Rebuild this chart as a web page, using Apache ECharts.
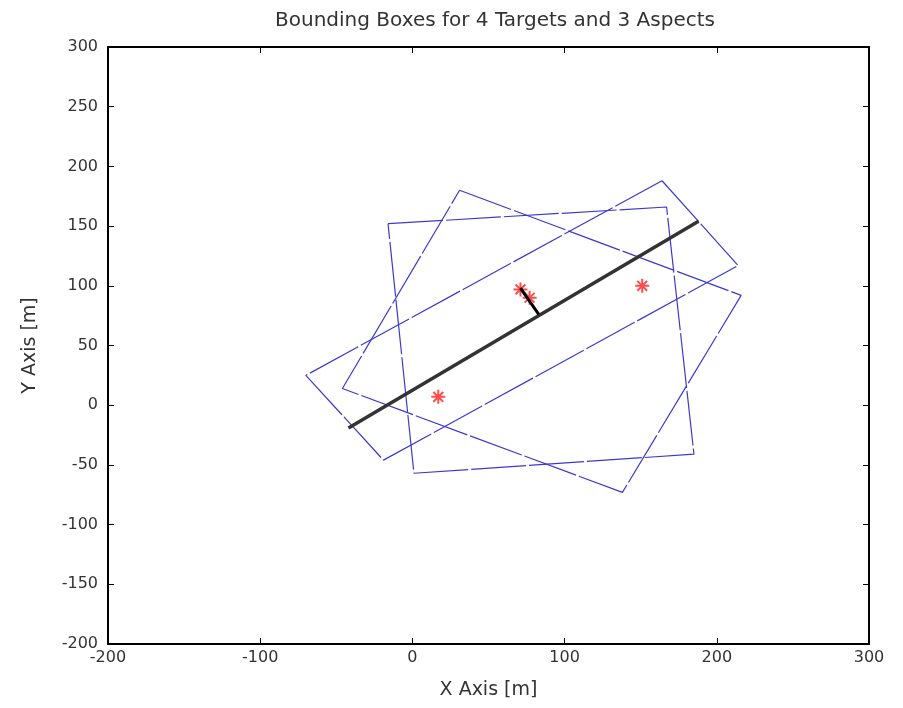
<!DOCTYPE html>
<html>
<head>
<meta charset="utf-8">
<script src="https://cdn.jsdelivr.net/npm/echarts@6/dist/echarts.min.js"></script>
<style>
  html, body { margin: 0; padding: 0; background: #fff; }
  #chart { width: 903px; height: 708px; }
</style>
</head>
<body>
<div id="chart"></div>
<script>
  // bounding boxes, corners (closed polygons)
  var box1 = [[-16, 152], [167, 166], [185, -41], [1, -57], [-16, 152]]
  var box2 = [[31, 180], [216, 92], [138, -73], [-46, 14], [31, 180]]
  var box3 = [[164, 188], [214, 117], [-19, -46], [-70, 25], [164, 188]]
  // long axis line and short offset line
  var axisLine = [[-42, -19], [188, 154]]
  var offsetLine = [[71, 98], [83, 76]]
  // targets
  var targets = [[17, 7], [71, 97], [77, 90], [151, 100]]

  var xTicks = { min: -200, max: 300, interval: 100 }
  var yTicks = { min: -200, max: 300, interval: 50 }

  var starPath = 'path://M0,-10L0,10M-10,0L10,0M-7,-7L7,7M-7,7L7,-7'
  var font = 'DejaVu Sans, sans-serif'

  var chart = echarts.init(document.getElementById('chart'))

  function boxSeries(data) {
    return {
      type: 'line',
      data: data,
      symbol: 'none',
      silent: true,
      lineStyle: { color: '#3a3ad0', width: 1.2, type: [55, 3] }
    }
  }

  var axisCommon = {
    type: 'value',
    splitLine: { show: false },
    axisLine: { show: true, onZero: false, lineStyle: { color: '#000', width: 2 } },
    axisTick: { show: true, inside: true, length: 6, lineStyle: { color: '#000' } }
  }

  chart.setOption({
    animation: false,
    backgroundColor: '#fff',
    title: {
      text: 'Bounding Boxes for 4 Targets and 3 Aspects',
      left: 490,
      textAlign: 'center',
      top: 6,
      textStyle: { fontFamily: font, fontSize: 20, fontWeight: 'normal', color: '#333' }
    },
    grid: { left: 108, right: 34, top: 47, bottom: 64 },
    xAxis: [
      Object.assign({}, axisCommon, {
        min: xTicks.min, max: xTicks.max, interval: xTicks.interval,
        position: 'bottom',
        name: 'X Axis [m]',
        nameLocation: 'middle',
        nameGap: 37,
        nameTextStyle: { fontFamily: font, fontSize: 19, color: '#333' },
        axisLabel: { fontFamily: font, fontSize: 16, color: '#333', margin: 6 }
      }),
      Object.assign({}, axisCommon, {
        min: xTicks.min, max: xTicks.max, interval: xTicks.interval,
        position: 'top',
        axisLabel: { show: false }
      })
    ],
    yAxis: [
      Object.assign({}, axisCommon, {
        min: yTicks.min, max: yTicks.max, interval: yTicks.interval,
        position: 'left',
        name: 'Y Axis [m]',
        nameLocation: 'middle',
        nameGap: 68,
        nameRotate: 90,
        nameTextStyle: { fontFamily: font, fontSize: 19, color: '#333' },
        axisLabel: { fontFamily: font, fontSize: 16, color: '#333', margin: 10 }
      }),
      Object.assign({}, axisCommon, {
        min: yTicks.min, max: yTicks.max, interval: yTicks.interval,
        position: 'right',
        axisLabel: { show: false }
      })
    ],
    series: [
      boxSeries(box1),
      boxSeries(box2),
      boxSeries(box3),
      {
        type: 'line',
        data: axisLine,
        symbol: 'none',
        lineStyle: { color: '#333', width: 3.5 }
      },
      {
        type: 'line',
        data: offsetLine,
        symbol: 'none',
        lineStyle: { color: '#000', width: 3 }
      },
      {
        type: 'scatter',
        data: targets,
        symbol: starPath,
        symbolSize: 14,
        z: 1,
        itemStyle: { color: 'none', borderColor: '#ff2020', borderWidth: 2 }
      }
    ]
  })
</script>
</body>
</html>
